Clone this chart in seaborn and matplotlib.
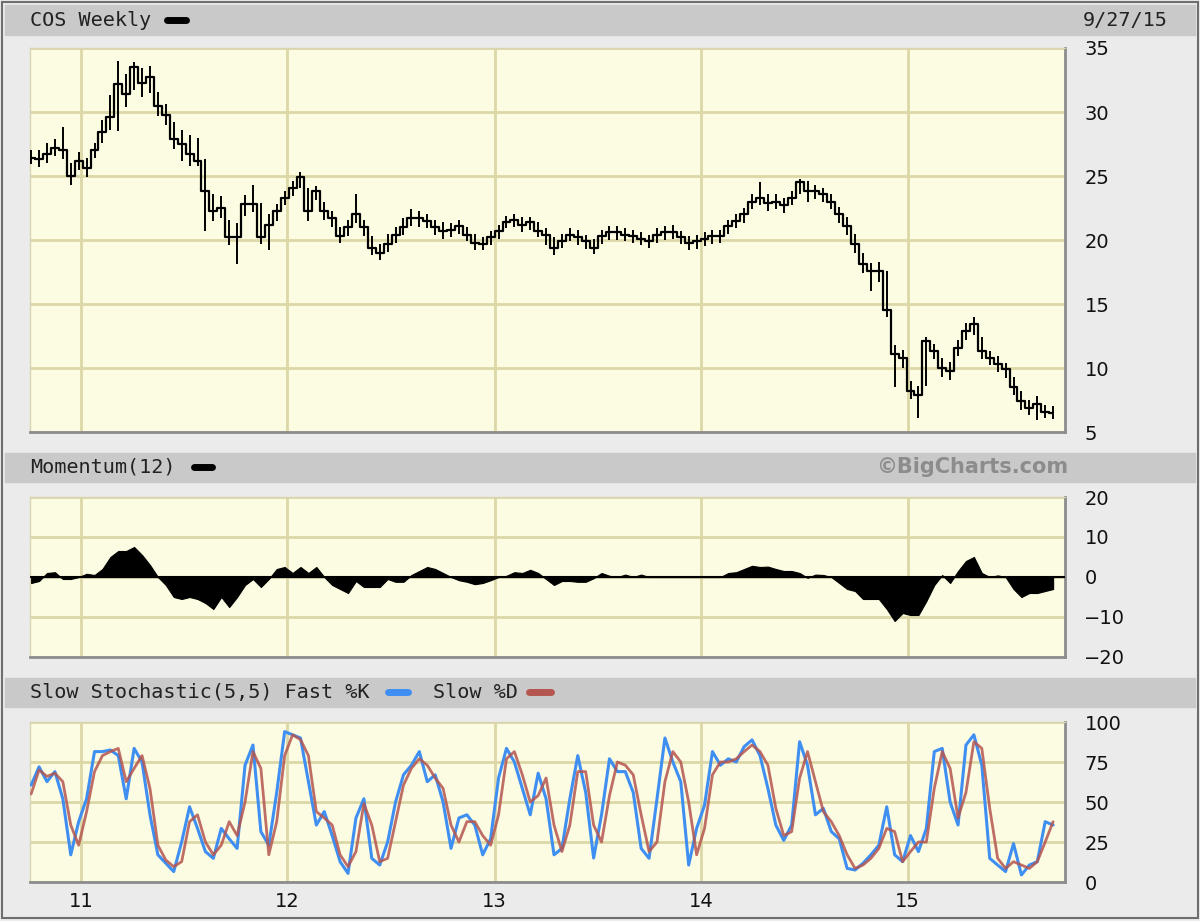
import numpy as np
import pandas as pd
import matplotlib
matplotlib.use('Agg')
import matplotlib.pyplot as plt
from matplotlib.patches import Rectangle
from matplotlib.lines import Line2D
import seaborn as sns

# ---- data: biweekly readings, Oct 2010 - Sep 2015 ----
dates = pd.date_range('2010-10-05', periods=130, freq='14D')

close = [26.4, 26.3, 26.7, 27.2, 27.0, 25.0, 26.2, 25.6, 27.0, 28.4,
         29.6, 32.2, 31.4, 33.5, 32.3, 32.7, 30.5, 29.8, 27.9, 27.5,
         26.7, 26.2, 23.8, 22.3, 22.5, 20.2, 20.2, 22.8, 22.8, 20.2,
         21.2, 22.3, 23.3, 24.1, 24.9, 22.3, 23.8, 22.3, 21.7, 20.3,
         21.0, 22.0, 21.0, 19.4, 19.0, 19.7, 20.4, 21.0, 21.7, 21.7,
         21.5, 21.0, 20.7, 20.8, 21.1, 20.4, 19.8, 19.7, 20.2, 20.7,
         21.4, 21.6, 21.2, 21.4, 20.7, 20.4, 19.4, 19.9, 20.4, 20.2,
         19.9, 19.4, 20.3, 20.6, 20.6, 20.4, 20.3, 20.1, 19.9, 20.4,
         20.6, 20.6, 20.2, 19.8, 19.9, 20.1, 20.3, 20.3, 21.1, 21.5,
         22.0, 23.0, 23.3, 22.9, 23.0, 22.7, 23.3, 24.5, 23.8, 23.8,
         23.6, 23.0, 22.0, 21.1, 19.7, 18.1, 17.6, 17.6, 14.5, 11.1,
         10.8, 8.2, 7.9, 12.1, 11.3, 10.0, 9.8, 11.6, 12.9, 13.4,
         11.3, 10.8, 10.3, 9.9, 8.5, 7.4, 6.9, 7.2, 6.6, 6.5]

high = [27.0, 27.0, 27.6, 27.9, 28.8, 26.0, 26.9, 26.4, 27.6, 29.4,
        31.3, 34.0, 33.0, 33.9, 33.4, 33.6, 31.6, 30.6, 29.2, 28.6,
        28.2, 28.0, 26.3, 23.6, 23.4, 21.6, 21.3, 23.5, 24.3, 22.9,
        22.0, 22.8, 23.8, 24.6, 25.3, 24.1, 24.2, 23.0, 22.3, 21.0,
        21.6, 23.6, 21.6, 20.3, 19.7, 20.5, 21.0, 21.7, 22.4, 22.3,
        22.0, 21.6, 21.4, 21.3, 21.6, 21.0, 20.5, 20.2, 20.7, 21.2,
        21.9, 22.0, 21.8, 21.8, 21.4, 20.9, 20.2, 20.5, 20.9, 20.8,
        20.4, 20.1, 20.8, 21.1, 21.1, 20.9, 20.8, 20.6, 20.4, 20.9,
        21.1, 21.2, 20.7, 20.3, 20.4, 20.6, 20.8, 20.8, 21.6, 22.0,
        22.5, 23.6, 24.5, 23.6, 23.6, 23.3, 23.8, 24.8, 24.6, 24.3,
        24.1, 23.6, 22.6, 21.8, 20.5, 19.0, 18.2, 18.3, 17.6, 11.8,
        11.4, 9.0, 8.6, 12.4, 11.9, 10.8, 10.5, 12.2, 13.5, 14.0,
        12.4, 11.3, 10.9, 10.4, 9.3, 8.2, 7.5, 7.8, 7.1, 7.0]

low = [25.9, 25.7, 26.0, 26.6, 26.3, 24.3, 25.5, 24.9, 26.4, 27.6,
       28.6, 28.5, 30.4, 31.7, 31.2, 31.5, 29.7, 29.0, 27.1, 26.2,
       25.8, 25.8, 20.7, 21.5, 21.7, 19.6, 18.1, 21.9, 22.2, 19.7,
       19.2, 21.5, 22.7, 23.4, 24.1, 21.5, 23.1, 21.6, 21.0, 19.8,
       20.3, 21.3, 20.3, 18.8, 18.4, 19.1, 19.8, 20.4, 21.1, 21.0,
       20.9, 20.4, 20.1, 20.2, 20.5, 19.9, 19.2, 19.2, 19.6, 20.1,
       20.9, 21.0, 20.6, 20.8, 20.2, 19.6, 18.8, 19.4, 19.9, 19.6,
       19.3, 18.9, 19.7, 20.0, 20.0, 19.9, 19.8, 19.6, 19.4, 19.8,
       20.0, 20.1, 19.7, 19.2, 19.3, 19.5, 19.7, 19.8, 20.5, 20.9,
       21.3, 22.4, 22.7, 22.3, 22.4, 22.1, 22.7, 23.6, 23.0, 23.2,
       23.0, 22.4, 21.3, 20.4, 19.0, 17.4, 16.0, 16.7, 14.0, 8.5,
       10.0, 7.6, 6.1, 8.6, 10.7, 9.3, 9.1, 10.9, 12.2, 12.6,
       10.7, 10.2, 9.7, 9.2, 7.9, 6.7, 6.3, 5.9, 6.1, 6.0]

momentum = [-1.5, -1.0, 1.0, 1.2, -0.5, -0.5, 0.0, 0.8, 0.5, 2.0,
            5.0, 6.5, 6.5, 7.5, 5.5, 3.0, 0.0, -2.0, -5.0, -5.5,
            -5.0, -5.5, -6.5, -8.0, -5.0, -7.5, -5.0, -2.0, -0.5, -2.5,
            -0.5, 2.0, 2.5, 1.0, 2.5, 1.0, 2.5, 0.0, -2.0, -3.0,
            -4.0, -1.0, -2.5, -2.5, -2.5, -0.5, -1.2, -1.2, 0.5, 1.5,
            2.5, 2.0, 1.0, 0.0, -0.8, -1.2, -1.8, -1.5, -0.8, 0.0,
            0.3, 1.2, 1.0, 1.8, 1.0, -0.5, -2.0, -1.0, -1.0, -1.2,
            -1.2, -0.3, 1.0, 0.3, 0.0, 0.6, 0.0, 0.6, 0.0, 0.0,
            0.0, 0.0, 0.0, 0.0, 0.0, 0.0, 0.0, 0.0, 1.0, 1.2,
            2.0, 2.8, 2.5, 2.6, 2.0, 1.5, 1.5, 1.0, -0.2, 0.6,
            0.5, 0.0, -1.5, -3.0, -3.5, -5.5, -5.5, -5.5, -8.0, -11.0,
            -9.0, -9.5, -9.5, -6.0, -2.0, 0.5, -1.5, 1.5, 4.0, 5.0,
            1.0, 0.0, 0.4, 0.0, -3.0, -5.0, -4.0, -4.0, -3.5, -3.0]

fast_k = [60.6, 72.0, 62.7, 69.0, 52.0, 17.0, 37.7, 52.0, 81.5, 81.5,
          82.5, 79.0, 52.0, 83.5, 75.0, 42.0, 17.0, 11.7, 6.5, 25.0,
          47.0, 33.5, 19.0, 14.8, 33.5, 27.0, 21.0, 73.0, 85.6, 31.5,
          23.0, 56.0, 94.0, 92.0, 90.0, 62.7, 35.6, 44.0, 29.0, 12.7,
          5.4, 40.0, 52.0, 14.8, 10.6, 25.0, 50.0, 67.0, 73.0, 81.5,
          62.7, 67.0, 50.0, 21.0, 40.0, 42.0, 35.6, 17.0, 27.0, 65.0,
          83.5, 75.0, 58.5, 42.0, 68.0, 52.0, 17.0, 21.0, 52.0, 79.0,
          56.0, 15.0, 42.0, 77.0, 69.0, 69.0, 56.0, 21.0, 14.8, 52.0,
          90.0, 75.0, 62.7, 10.6, 33.5, 48.0, 81.5, 73.0, 77.0, 75.0,
          84.6, 88.8, 79.0, 58.5, 35.6, 26.0, 35.6, 87.7, 73.0, 42.0,
          46.0, 31.5, 27.0, 8.5, 7.5, 11.7, 17.0, 23.0, 47.0, 17.0,
          12.7, 29.0, 19.0, 33.5, 81.5, 83.5, 50.0, 35.6, 85.6, 92.0,
          73.0, 14.8, 10.6, 6.5, 24.0, 4.4, 10.6, 12.7, 37.7, 35.6]

slow_d = [55.0, 70.0, 66.0, 68.0, 62.7, 35.6, 23.0, 44.0, 69.0, 79.0,
          81.5, 83.5, 62.7, 71.0, 79.0, 58.5, 23.0, 13.7, 9.6, 12.7,
          37.7, 42.0, 25.0, 17.0, 23.0, 37.7, 29.0, 50.0, 81.5, 71.0,
          17.0, 37.7, 79.0, 92.0, 89.0, 79.0, 44.0, 40.0, 35.6, 17.0,
          9.6, 19.0, 49.0, 35.6, 12.7, 14.8, 37.7, 60.6, 71.0, 77.0,
          73.0, 65.0, 58.5, 35.6, 25.0, 37.7, 37.7, 29.0, 23.0, 42.0,
          77.0, 81.5, 67.0, 50.0, 54.0, 65.0, 35.6, 19.0, 35.6, 69.0,
          69.0, 35.6, 25.0, 54.0, 75.0, 73.0, 67.0, 42.0, 19.0, 25.0,
          62.7, 81.5, 75.0, 50.0, 17.0, 33.5, 67.0, 75.0, 75.0, 77.0,
          81.5, 85.6, 81.5, 73.0, 46.0, 29.0, 31.5, 65.0, 81.5, 62.7,
          44.0, 37.7, 29.0, 17.0, 8.5, 10.6, 14.8, 21.0, 33.5, 31.5,
          12.7, 19.0, 25.0, 25.0, 58.5, 81.5, 71.0, 40.0, 56.0, 87.7,
          83.5, 46.0, 14.8, 8.5, 12.7, 10.6, 8.5, 12.7, 25.0, 37.7]

year_ticks = pd.to_datetime(['2011-01-01', '2012-01-01', '2013-01-01',
                             '2014-01-01', '2015-01-01'])
year_labels = ['11', '12', '13', '14', '15']

# ---- style ----
W, H = 1200, 921
BG = '#ebebeb'
BAR = '#c9c9c9'
PLOT_BG = '#fcfce2'
GRID = '#dcd7a6'
MONO = 'DejaVu Sans Mono'

sns.set_style('white')
plt.rcParams['font.family'] = ['DejaVu Sans']

fig = plt.figure(figsize=(12, 9.21), dpi=100, facecolor=BG)


def fx(px):
    return px / W


def fy(py):
    return 1 - py / H


# outer frame and header bars
fig.patches.append(Rectangle((fx(2), fy(918)), fx(1196), 916 / H, transform=fig.transFigure,
                             facecolor='none', edgecolor='#6e6e6e', lw=1.5, zorder=0))
for top, bot in [(5, 35), (453, 482), (678, 707)]:
    fig.patches.append(Rectangle((fx(5), fy(bot)), fx(1190), (bot - top) / H,
                                 transform=fig.transFigure, color=BAR, zorder=0))

x0, x1 = fx(30), fx(1065)
ax_p = fig.add_axes([x0, fy(432), x1 - x0, (432 - 48) / H])
ax_m = fig.add_axes([x0, fy(657), x1 - x0, (657 - 497) / H])
ax_s = fig.add_axes([x0, fy(882), x1 - x0, (882 - 722) / H])

xlim = (pd.Timestamp('2010-10-03'), pd.Timestamp('2015-10-06'))

# ---- price panel ----
ax_p.vlines(dates, low, high, color='black', lw=1.4, zorder=3)
sns.lineplot(x=dates, y=close, ax=ax_p, color='black', lw=1.6,
             drawstyle='steps-mid', zorder=4)
ax_p.set_ylim(5, 35)
ax_p.set_yticks([5, 10, 15, 20, 25, 30, 35])

# ---- momentum panel ----
ax_m.fill_between(dates, momentum, 0, color='black', lw=0.8, zorder=3)
ax_m.axhline(0, color='black', lw=1.5, zorder=4)
ax_m.set_ylim(-20, 20)
ax_m.set_yticks([-20, -10, 0, 10, 20])

# ---- slow stochastic panel ----
sns.lineplot(x=dates, y=fast_k, ax=ax_s, color='#3f8ff2', lw=2.2, zorder=3)
sns.lineplot(x=dates, y=slow_d, ax=ax_s, color='#b5554f', lw=2.0, alpha=0.85, zorder=4)
ax_s.set_ylim(0, 100)
ax_s.set_yticks([0, 25, 50, 75, 100])

for ax in (ax_p, ax_m, ax_s):
    ax.set_facecolor(PLOT_BG)
    ax.set_xlim(*xlim)
    ax.set_xticks(year_ticks)
    ax.set_xticklabels(year_labels)
    ax.grid(True, color=GRID, lw=2)
    ax.set_axisbelow(True)
    ax.set_xlabel('')
    ax.set_ylabel('')
    ax.yaxis.tick_right()
    ax.tick_params(axis='y', length=0, pad=14, labelsize=14, labelcolor='#111111')
    ax.tick_params(axis='x', length=0, pad=7, labelsize=14, labelcolor='#111111')
    for s in ('top', 'left'):
        ax.spines[s].set_color('#d9d4b2')
        ax.spines[s].set_linewidth(1)
    for s in ('bottom', 'right'):
        ax.spines[s].set_color('#8c8c8c')
        ax.spines[s].set_linewidth(2)

ax_p.tick_params(axis='x', labelbottom=False)
ax_m.tick_params(axis='x', labelbottom=False)

# ---- header texts and legend keys ----
fig.text(fx(30), fy(20), 'COS Weekly', family=MONO, size=14.5, va='center', color='#222222')
fig.text(fx(1168), fy(20), '9/27/15', family=MONO, size=14.5, va='center', ha='right', color='#222222')
fig.text(fx(30), fy(467), 'Momentum(12)', family=MONO, size=14.5, va='center', color='#222222')
fig.text(fx(1068), fy(467), '\u00a9BigCharts.com', size=15, weight='bold', va='center',
         ha='right', color='#8c8c8c')
fig.text(fx(30), fy(692), 'Slow Stochastic(5,5) Fast %K', family=MONO, size=14.5,
         va='center', color='#222222')
fig.text(fx(433), fy(692), 'Slow %D', family=MONO, size=14.5, va='center', color='#222222')

for xa, xb, yy, c in [(167, 186, 20, 'black'), (194, 212, 467, 'black'),
                      (388, 408, 692, '#3f8ff2'), (529, 551, 692, '#b5554f')]:
    fig.add_artist(Line2D([fx(xa), fx(xb)], [fy(yy), fy(yy)], transform=fig.transFigure,
                          color=c, lw=5, solid_capstyle='round'))

fig.savefig('out.png', dpi=100, facecolor=BG)
